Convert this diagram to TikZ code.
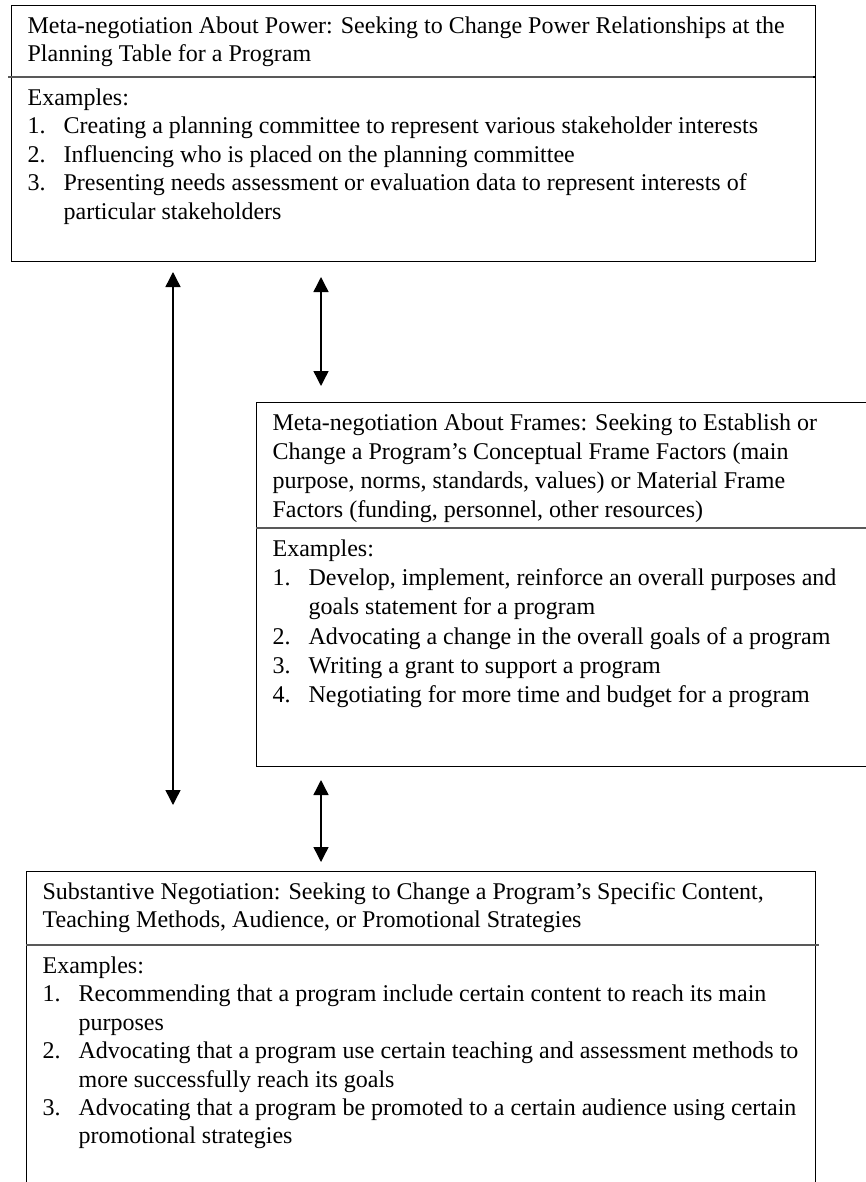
\documentclass[tikz,border=0pt]{standalone}
\usepackage{fontspec}
\setmainfont{Liberation Serif}
\usetikzlibrary{arrows.meta}

\newcommand{\itm}[2]{\par\hangindent=18pt\hangafter=1\noindent\makebox[18pt][l]{#1}#2}
\newcommand{\boxtext}[3]{\parbox[t][#1][t]{#2}{\raggedright #3}}

\begin{document}
\begin{tikzpicture}[x=0.5pt,y=-0.5pt,
    frame/.style={draw, line width=0.6pt, anchor=north west, inner xsep=8pt, inner ysep=5.5pt,
        font=\fontsize{12pt}{14.2pt}\selectfont},
    wideframe/.style={frame, font=\fontsize{12pt}{14.6pt}\selectfont},
    sepline/.style={draw=black!65, line width=1pt},
    dblarrow/.style={{Triangle[length=7.5pt,width=7.5pt]}-{Triangle[length=7.5pt,width=7.5pt]}, line width=0.7pt}]

    \useasboundingbox (0,0) rectangle (866,1182);
    \clip (0,0) rectangle (866,1182);

    % power
    \node[frame] (powerhead) at (11,5)
        {\boxtext{24.5pt}{386pt}{Meta-negotiation About Power: Seeking to Change Power Relationships at the\\
        Planning Table for a Program}};
    \node[frame] (powerex) at (powerhead.south west)
        {\boxtext{81pt}{386pt}{Examples:
        \itm{1.}{Creating a planning committee to represent various stakeholder interests}
        \itm{2.}{Influencing who is placed on the planning committee}
        \itm{3.}{Presenting needs assessment or evaluation data to represent interests of\newline particular stakeholders}}};

    % frames
    \node[wideframe] (framehead) at (256,402)
        {\boxtext{51.5pt}{304pt}{Meta-negotiation About Frames: Seeking to Establish or\\
        Change a Program’s Conceptual Frame Factors (main\\
        purpose, norms, standards, values) or Material Frame\\
        Factors (funding, personnel, other resources)}};
    \node[wideframe] (frameex) at (framehead.south west)
        {\boxtext{108pt}{304pt}{Examples:
        \itm{1.}{Develop, implement, reinforce an overall purposes and\newline goals statement for a program}
        \itm{2.}{Advocating a change in the overall goals of a program}
        \itm{3.}{Writing a grant to support a program}
        \itm{4.}{Negotiating for more time and budget for a program}}};

    % substantive
    \node[frame] (subhead) at (26,871)
        {\boxtext{25.5pt}{378.5pt}{Substantive Negotiation: Seeking to Change a Program’s Specific Content,\\
        Teaching Methods, Audience, or Promotional Strategies}};
    \node[frame] (subex) at (subhead.south west)
        {\boxtext{119pt}{378.5pt}{Examples:
        \itm{1.}{Recommending that a program include certain content to reach its main\newline purposes}
        \itm{2.}{Advocating that a program use certain teaching and assessment methods to\newline more successfully reach its goals}
        \itm{3.}{Advocating that a program be promoted to a certain audience using certain\newline promotional strategies}}};

    % separators
    \draw[sepline] ([xshift=-1.5pt]powerhead.south west) -- ([xshift=-1.5pt]powerhead.south east);
    \draw[sepline] (framehead.south west) -- (framehead.south east);
    \draw[sepline] (subhead.south west) -- ([xshift=1.5pt]subhead.south east);

    % arrows
    \coordinate (longtop) at (173,272);
    \coordinate (longbot) at (173,805);
    \coordinate (uptop) at (321,277);
    \coordinate (upbot) at (321,386);
    \coordinate (lowtop) at (321,780);
    \coordinate (lowbot) at (321,862);
    \foreach \s/\t in {longtop/longbot, uptop/upbot, lowtop/lowbot} {
        \draw[dblarrow] (\s) -- (\t);
    }

\end{tikzpicture}
\end{document}
